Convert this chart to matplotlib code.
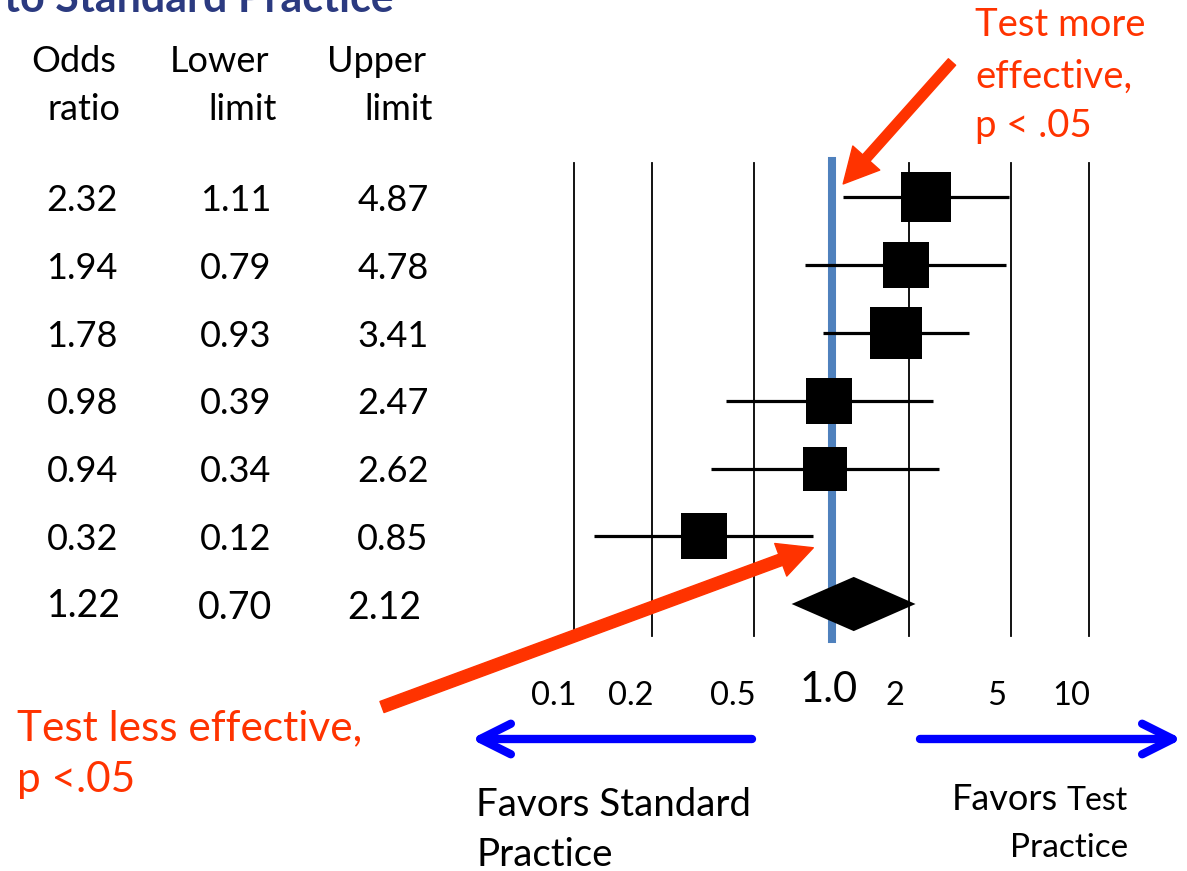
import matplotlib
matplotlib.use('Agg')
import matplotlib.pyplot as plt
import matplotlib.transforms as mtransforms
from matplotlib.patches import Polygon

# ---------------- data ----------------
odds = [2.32, 1.94, 1.78, 0.98, 0.94, 0.32]
lower = [1.11, 0.79, 0.93, 0.39, 0.34, 0.12]
upper = [4.87, 4.78, 3.41, 2.47, 2.62, 0.85]
study_weight = [49.5, 46.3, 52.8, 46.3, 44.5, 45.3]   # relative box sizes
pooled_odds = 1.22
pooled_lower = 0.70
pooled_upper = 2.12
tick_values = [0.1, 0.2, 0.5, 1.0, 2, 5, 10]
tick_labels = ['0.1', '0.2', '0.5', '1.0', '2', '5', '10']
grid_values = [0.1, 0.2, 0.5, 2, 5, 10]
null_value = 1.0

# ---------------- figure ----------------
W, H, DPI = 1187, 871, 100
plt.rcParams['font.family'] = ['Lato', 'DejaVu Sans']
fig = plt.figure(figsize=(W / DPI, H / DPI), dpi=DPI)


def fx(px):
    return px / W


def fy(py):
    return 1 - py / H


def ftext(x, y, s, **kw):
    kw.setdefault('va', 'baseline')
    return fig.text(fx(x), fy(y), s, **kw)


RED = '#FF3300'
BLUE = '#0000FF'

# forest axes: 0.1 .. 10 on log scale
ax_l, ax_r, ax_t, ax_b = 574, 1089, 163, 636
row0_px, row_h = 197.5, 67.75
ax = fig.add_axes([fx(ax_l), fy(ax_b), (ax_r - ax_l) / W, (ax_b - ax_t) / H])
ax.set_xscale('log')
ax.set_xlim(0.1, 10)
ax.set_ylim((ax_b - row0_px) / row_h, -(row0_px - ax_t) / row_h)
ax.axis('off')

for g in grid_values:
    ax.axvline(g, color='black', lw=1.3, zorder=1, clip_on=False)
ax.axvline(null_value, ymin=-0.006, ymax=1.004, color='#4F81BD', lw=5.8,
           zorder=2, clip_on=False)

rows = list(range(len(odds)))
ax.hlines(rows, lower, upper, color='black', lw=2.3, zorder=3)
for i in rows:
    ax.plot(odds[i], i, marker='s', ms=study_weight[i] * 0.72, color='black',
            mew=0, zorder=4, clip_on=False)

pr = len(odds)
dh = 0.4
diamond = Polygon([(pooled_lower, pr), (pooled_odds, pr - dh),
                   (pooled_upper, pr), (pooled_odds, pr + dh)],
                  closed=True, fc='black', ec='black', lw=0, zorder=4)
ax.add_patch(diamond)

# ---------------- table ----------------
row_trans = mtransforms.blended_transform_factory(fig.transFigure, ax.transData)
base_trans = mtransforms.offset_copy(row_trans, fig=fig, x=0, y=-13.6, units='dots')
for i in rows:
    fig.text(fx(46.5), i, f'{odds[i]:.2f}', transform=base_trans, ha='left',
             va='baseline', fontsize=26)
    fig.text(fx(271.5), i, f'{lower[i]:.2f}', transform=base_trans, ha='right',
             va='baseline', fontsize=26)
    fig.text(fx(428.5), i, f'{upper[i]:.2f}', transform=base_trans, ha='right',
             va='baseline', fontsize=26)
pool_trans = mtransforms.offset_copy(row_trans, fig=fig, x=0, y=-13.0, units='dots')
pool_trans2 = mtransforms.offset_copy(row_trans, fig=fig, x=0, y=-14.5, units='dots')
fig.text(fx(46.5), pr, f'{pooled_odds:.2f}', transform=pool_trans, ha='left',
         va='baseline', fontsize=27)
fig.text(fx(272.5), pr, f'{pooled_lower:.2f}', transform=pool_trans2, ha='right',
         va='baseline', fontsize=27)
fig.text(fx(421.5), pr, f'{pooled_upper:.2f}', transform=pool_trans2, ha='right',
         va='baseline', fontsize=27)

# headers
ftext(31, 72, 'Odds', fontsize=26)
ftext(47, 120, 'ratio', fontsize=26)
ftext(170, 72, 'Lower', fontsize=26)
ftext(277, 120, 'limit', fontsize=26, ha='right')
ftext(327, 72, 'Upper', fontsize=26)
ftext(433, 120, 'limit', fontsize=26, ha='right')

# title (cut off at top, as in the source slide)
ftext(394, 12, 'to Standard Practice', fontsize=31, fontweight='bold',
      color='#2B3A80', ha='right')

# ---------------- x tick labels ----------------
tick_off = [-20.5, -21, -21, -3, -14, -15, -18]
tick_size = [23.5, 23.5, 23.5, 30, 23.5, 23.5, 23.5]
tick_base = [705, 705, 705, 702, 705, 705, 705]
xt = mtransforms.blended_transform_factory(ax.transData, fig.transFigure)
for v, lab, off, sz, yb in zip(tick_values, tick_labels, tick_off, tick_size, tick_base):
    tr = mtransforms.offset_copy(xt, fig=fig, x=off, y=0, units='dots')
    fig.text(v, fy(yb), lab, transform=tr, ha='center', va='baseline', fontsize=sz)

# ---------------- blue arrows ----------------
for x0, x1 in [(752, 471), (920, 1182)]:
    ax.annotate('', xy=(x1, H - 739), xycoords='figure pixels',
                xytext=(x0, H - 739), textcoords='figure pixels',
                arrowprops=dict(arrowstyle='->,head_length=22,head_width=11',
                                lw=6, color=BLUE, capstyle='round',
                                joinstyle='round', mutation_scale=1,
                                shrinkA=0, shrinkB=0),
                annotation_clip=False)

ftext(476, 816, 'Favors Standard', fontsize=27.7)
ftext(476, 866, 'Practice', fontsize=27.7)
ftext(952, 810, 'Favors', fontsize=26)
ftext(1128, 810, 'Test', fontsize=23, ha='right')
ftext(1128, 857, 'Practice', fontsize=24, ha='right')

# ---------------- red annotations ----------------
ax.annotate('', xy=(lower[0], -0.2), xycoords='data',
            xytext=(952, H - 62), textcoords='figure pixels',
            arrowprops=dict(arrowstyle='simple,head_length=25,head_width=26,tail_width=7',
                            color=RED, shrinkA=0, shrinkB=0, mutation_scale=1),
            annotation_clip=False)
ax.annotate('', xy=(upper[5], 5 + 0.17), xycoords='data',
            xytext=(382, H - 707), textcoords='figure pixels',
            arrowprops=dict(arrowstyle='simple,head_length=25,head_width=25,tail_width=8.5',
                            color=RED, shrinkA=0, shrinkB=0, mutation_scale=1),
            annotation_clip=False)

ftext(975, 36, 'Test more', fontsize=27.5, color=RED)
ftext(975, 88, 'effective,', fontsize=27.5, color=RED)
ftext(975, 137, 'p < .05', fontsize=27.5, color=RED)
ftext(17, 740, 'Test less effective,', fontsize=30.5, color=RED)
ftext(17, 792, 'p <.05', fontsize=30.5, color=RED)

fig.savefig('out.png', dpi=DPI)
